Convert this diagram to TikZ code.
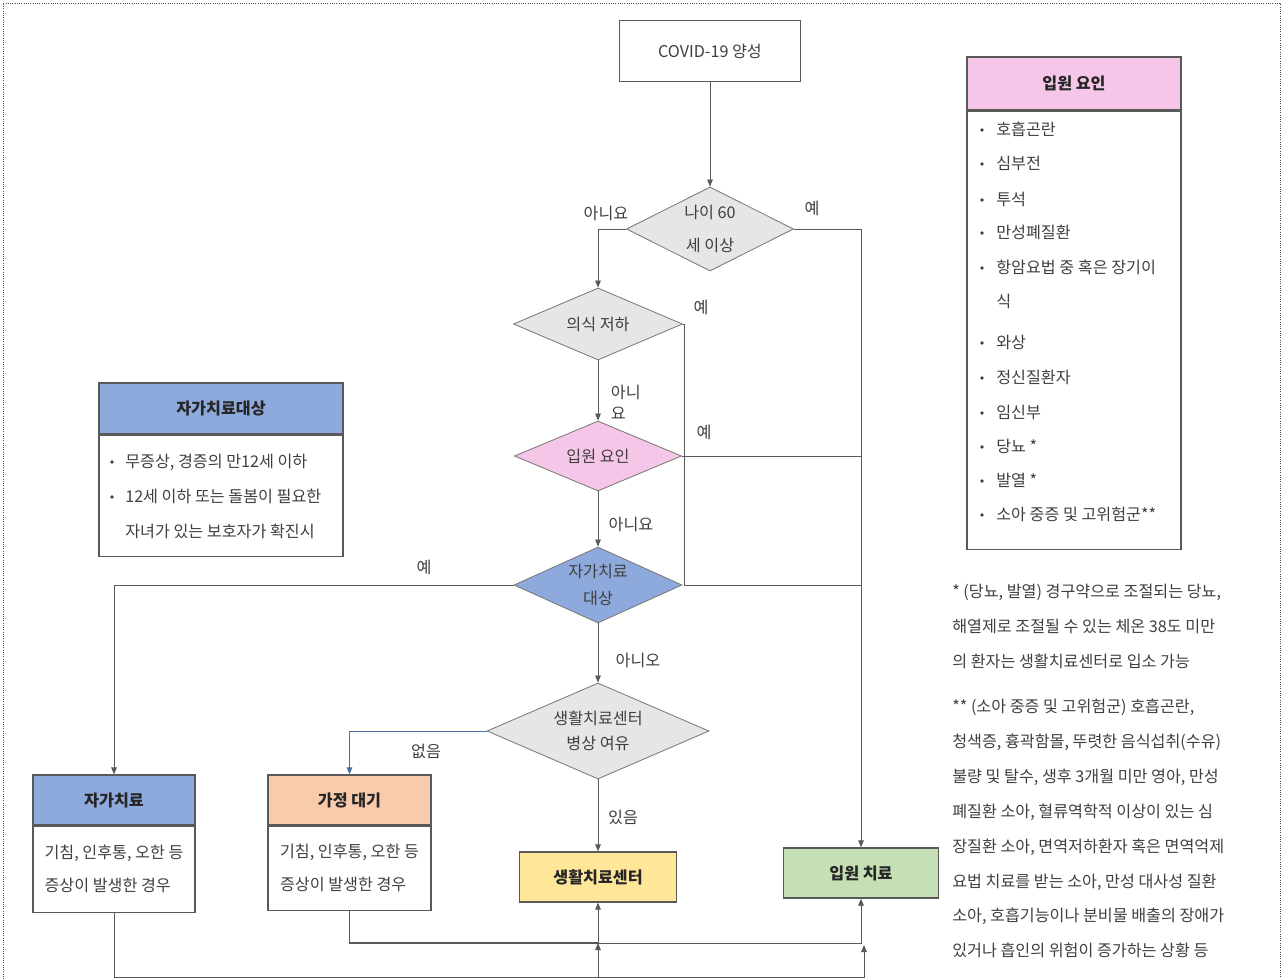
\documentclass[tikz,border=0pt]{standalone}
\usepackage{fontspec}
\setmainfont{Noto Sans CJK KR}
\usetikzlibrary{shapes.geometric, arrows.meta, positioning}

\definecolor{lineGray}{HTML}{595959}
\definecolor{textGray}{HTML}{3F3F3F}
\definecolor{fillGray}{HTML}{E7E6E6}
\definecolor{fillPink}{HTML}{F6C6E8}
\definecolor{fillBlue}{HTML}{8EA9DB}
\definecolor{fillOrange}{HTML}{F8CBAD}
\definecolor{fillYellow}{HTML}{FFE699}
\definecolor{fillGreen}{HTML}{C5E0B4}
\definecolor{lineBlue}{HTML}{4A6FA5}

\tikzset{
  x=0.025cm, y=-0.025cm,
  base/.style={font=\fontsize{11.5}{13}\selectfont, text=textGray},
  decision/.style={base, diamond, draw=lineGray!80, line width=0.6pt, inner sep=0pt, align=center},
  box/.style={base, rectangle, draw=lineGray, line width=0.9pt, inner sep=0pt, align=center},
  head/.style={box, font=\fontsize{11.5}{13}\selectfont\bfseries, text=black!85},
  flow/.style={draw=lineGray, line width=0.6pt},
  arr/.style={flow, -{Triangle[length=5pt, width=4pt]}},
  lbl/.style={base},
  item/.style={base, anchor=west, inner sep=0pt, text height=9.2pt, text depth=1pt},
}

\begin{document}
\begin{tikzpicture}
  \useasboundingbox (0,0) rectangle (1283,979);
  \draw[densely dotted, line width=0.6pt, black!70] (3,979) -- (3,3) -- (1280,3) -- (1280,979);

  % main flow
  \node[box, minimum width=4.525cm, minimum height=1.525cm] (covid) at (710,51) {COVID-19 양성};
  \node[decision, fill=fillGray, aspect=2, minimum width=4.175cm, minimum height=2.1cm,
        font=\fontsize{11.5}{24}\selectfont] (age) at (710,229) {나이 60\\세 이상};
  \node[decision, fill=fillGray, aspect=2.3, minimum width=4.225cm, minimum height=1.8cm] (cons) at (598,324) {의식 저하};
  \node[decision, fill=fillPink, aspect=2.3, minimum width=4.175cm, minimum height=1.75cm] (hospfac) at (598,456) {입원 요인};
  \node[decision, fill=fillBlue, aspect=2.2, minimum width=4.2cm, minimum height=1.9cm,
        font=\fontsize{11.5}{19}\selectfont] (selfq) at (598,585) {자가치료\\대상};
  \node[decision, fill=fillGray, aspect=2.3, minimum width=5.55cm, minimum height=2.4cm,
        font=\fontsize{11.5}{17.5}\selectfont] (bed) at (598,731) {생활치료센터\\병상 여유};

  % outcomes
  \node[head, fill=fillBlue, minimum width=4.05cm, minimum height=1.25cm] (selfh) at (114,800) {자가치료};
  \node[box, below=0pt of selfh, align=left, minimum width=4.05cm, minimum height=2.15cm,
        font=\fontsize{11.5}{23.5}\selectfont] (selfb) {기침, 인후통, 오한 등\\증상이 발생한 경우};
  \node[head, fill=fillOrange, minimum width=4.075cm, minimum height=1.25cm] (homeh) at (349.5,800) {가정 대기};
  \node[box, below=0pt of homeh, align=left, minimum width=4.075cm, minimum height=2.1cm,
        font=\fontsize{11.5}{23.5}\selectfont] (homeb) {기침, 인후통, 오한 등\\증상이 발생한 경우};
  \node[head, fill=fillYellow, minimum width=3.925cm, minimum height=1.25cm] (center) at (598,877) {생활치료센터};
  \node[head, fill=fillGreen, minimum width=3.875cm, minimum height=1.25cm] (hosp) at (861,873) {입원 치료};

  % legend: self-care
  \node[head, fill=fillBlue, minimum width=6.1cm, minimum height=1.275cm] (selfkey) at (221,408.5) {자가치료대상};
  \node[box, below=0pt of selfkey, minimum width=6.1cm, minimum height=3.025cm] (selfkeyb) {};
  \fill[textGray] (112,462) circle (1.3pt);
  \fill[textGray] (112,497) circle (1.3pt);
  \node[item] (sk1) at (125,462) {무증상, 경증의 만12세 이하};
  \node[item] (sk2) at (125,497) {12세 이하 또는 돌봄이 필요한};
  \node[item] (sk3) at (125,532) {자녀가 있는 보호자가 확진시};

  % legend: admission factors
  \node[head, fill=fillPink, minimum width=5.35cm, minimum height=1.325cm] (hospkey) at (1074,83.5) {입원 요인};
  \node[box, below=0pt of hospkey, minimum width=5.35cm, minimum height=10.95cm] (hospkeyb) {};
  \foreach \yy/\txt [count=\i] in {130/호흡곤란, 164/심부전, 200/투석, 233/만성폐질환,
      268/항암요법 중 혹은 장기이, 343/와상, 378/정신질환자, 413/임신부, 447/당뇨 *,
      481/발열 *, 515/소아 중증 및 고위험군**}{
    \fill[textGray] (982,\yy) circle (1.3pt);
    \node[item] (hk\i) at (996,\yy) {\txt};
  }
  \node[item] (hkwrap) at (996,302) {식};

  % footnotes
  \foreach \yy/\txt [count=\i] in {
      {592/* (당뇨, 발열) 경구약으로 조절되는 당뇨,},
      {627/해열제로 조절될 수 있는 체온 38도 미만},
      {662/의 환자는 생활치료센터로 입소 가능},
      {707/** (소아 중증 및 고위험군) 호흡곤란,},
      {742/청색증, 흉곽함몰, 뚜렷한 음식섭취(수유)},
      {777/불량 및 탈수, 생후 3개월 미만 영아, 만성},
      {812/폐질환 소아, 혈류역학적 이상이 있는 심},
      {847/장질환 소아, 면역저하환자 혹은 면역억제},
      {882/요법 치료를 받는 소아, 만성 대사성 질환},
      {916/소아, 호흡기능이나 분비물 배출의 장애가},
      {951/있거나 흡인의 위험이 증가하는 상황 등}}{
    \node[item] (fn\i) at (952,\yy) {\txt};
  }

  % junctions
  \coordinate (jCons) at (684,585);
  \coordinate (jRight) at (861,585);
  \coordinate (jHosp) at (861,456);
  \coordinate (jA) at (598,943);
  \coordinate (jB) at (598,977);
  \coordinate (jC) at (864,945);

  % connectors
  \draw[arr] (covid) -- (age);
  \draw[arr] (age.west) -| (cons.north);
  \draw[arr] (age.east) -| (hosp.north);
  \draw[arr] (cons) -- (hospfac);
  \draw[arr] (hospfac) -- (selfq);
  \draw[arr] (selfq) -- (bed);
  \draw[arr] (bed) -- (center);
  \draw[flow] (cons.east) -| (jCons) -- (jRight);
  \draw[flow] (hospfac.east) -- (jHosp);
  \draw[arr] (selfq.west) -| (selfh.north);
  \draw[arr, draw=lineBlue] (bed.west) -| (homeh.north);
  \draw[flow, line width=1.1pt] (homeb.south) |- (jA);
  \draw[arr] (jA) -- (center.south);
  \draw[arr] (jA) -| (hosp.south);
  \draw[flow] (selfb.south) |- (jB);
  \draw[arr] (jB) -- (jA);
  \draw[arr] (jB) -| (jC);

  % branch labels
  \node[lbl] (noAge) at (606,213) {아니요};
  \node[lbl] (yesAge) at (812,208) {예};
  \node[lbl] (yesCons) at (701,307) {예};
  \node[lbl, align=left, anchor=west, font=\fontsize{11.5}{15}\selectfont] (noCons) at (606,402) {아니\\요};
  \node[lbl] (yesHosp) at (704,432) {예};
  \node[lbl] (noHosp) at (631,524) {아니요};
  \node[lbl] (yesSelf) at (424,567) {예};
  \node[lbl] (noSelf) at (638,660) {아니오};
  \node[lbl] (noBed) at (426,751) {없음};
  \node[lbl] (yesBed) at (623,817) {있음};
\end{tikzpicture}
\end{document}
